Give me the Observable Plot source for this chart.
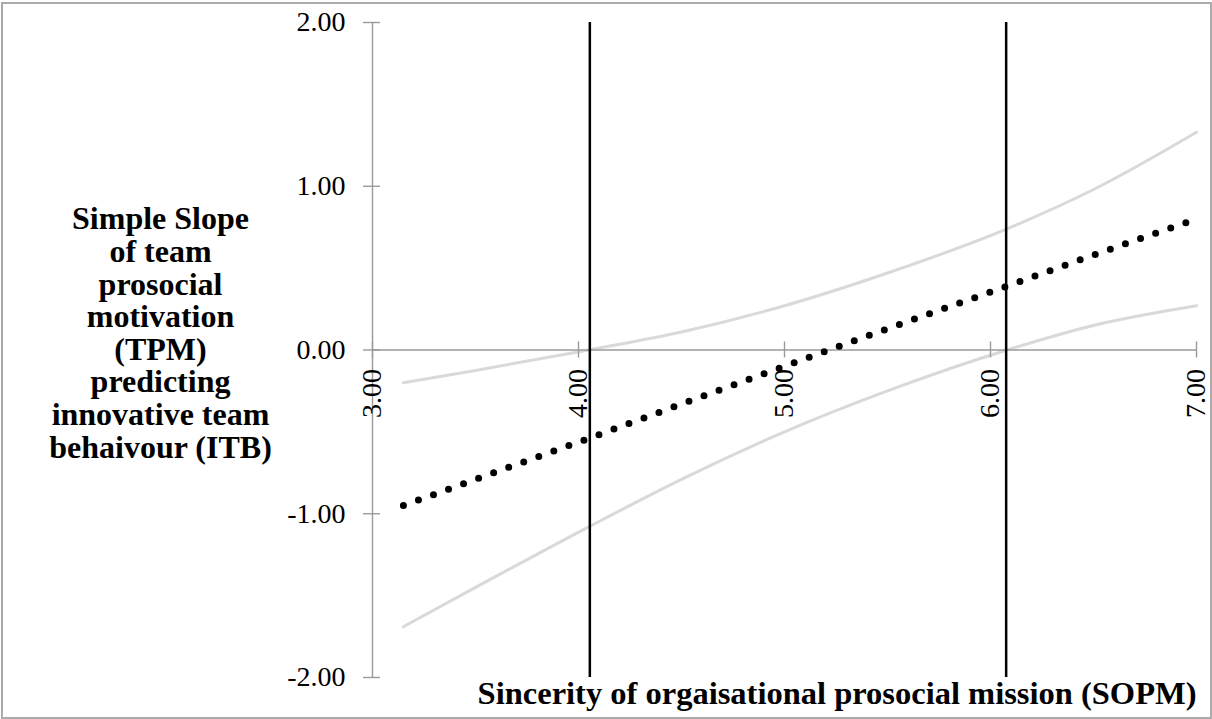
<!DOCTYPE html>
<html>
<head>
<meta charset="utf-8">
<script src="https://cdn.jsdelivr.net/npm/d3@7"></script>
<script src="https://cdn.jsdelivr.net/npm/@observablehq/plot@0.6"></script>
<style>
  html, body { margin: 0; padding: 0; background: #fff; }
  #wrap { position: relative; width: 1212px; height: 719px; overflow: hidden; }
  #border { position: absolute; left: 1px; top: 2px; width: 1207px; height: 713px; border: 2px solid #ababab; pointer-events: none; }
  svg { font-family: "Liberation Serif", "Times New Roman", serif; }
</style>
</head>
<body>
<div id="wrap"><div id="border"></div></div>
<script>
// ---- data ----
const sopm  = [3.15, 3.5, 4.05, 4.5, 5.0, 5.5, 6.08, 6.5, 7.0];
const slope = [-0.95, -0.79, -0.54, -0.33, -0.10, 0.13, 0.39, 0.58, 0.80];
const upper = [-0.20, -0.125, 0.00, 0.11, 0.27, 0.47, 0.74, 0.98, 1.33];
const lower = [-1.69, -1.45, -1.08, -0.79, -0.50, -0.25, 0.00, 0.15, 0.27];
const jnPoints = [4.055, 6.076];
const xTicks = [3, 4, 5, 6, 7];
const yTicks = [-2, -1, 0, 1, 2];
const xTickLabels = ["3.00", "4.00", "5.00", "6.00", "7.00"];
const yTickLabels = ["-2.00", "-1.00", "0.00", "1.00", "2.00"];
const yTitle = "Simple Slope\nof team\nprosocial\nmotivation\n(TPM)\npredicting\ninnovative team\nbehaivour (ITB)";
const xTitle = "Sincerity of orgaisational prosocial mission (SOPM)";

const rows = sopm.map((x, i) => ({x, est: slope[i], lo: lower[i], hi: upper[i]}));
const xt = xTicks.map((v, i) => ({v, label: xTickLabels[i]}));
const yt = yTicks.map((v, i) => ({v, label: yTickLabels[i]}));

const axisGray = "#9a9a9a";
const chart = Plot.plot({
  width: 1212,
  height: 719,
  marginLeft: 372,
  marginRight: 16,
  marginTop: 22,
  marginBottom: 42,
  x: {domain: [3, 7], axis: null},
  y: {domain: [-2, 2], axis: null},
  style: {fontFamily: "'Liberation Serif', 'Times New Roman', serif", background: "transparent", overflow: "visible"},
  marks: [
    // confidence bounds
    Plot.line(rows, {x: "x", y: "hi", stroke: "#d9d9d9", strokeWidth: 3, curve: "monotone-x"}),
    Plot.line(rows, {x: "x", y: "lo", stroke: "#d9d9d9", strokeWidth: 3, curve: "monotone-x"}),
    // axes lines
    Plot.ruleX([3], {y1: -2, y2: 2, stroke: axisGray, strokeWidth: 1.4}),
    Plot.ruleY([0], {x1: 3, x2: 7, stroke: axisGray, strokeWidth: 1.4}),
    // cross ticks
    Plot.ruleY(yt, {y: "v", x1: 3, x2: 3, insetLeft: -9, insetRight: -8, stroke: axisGray, strokeWidth: 1.4}),
    Plot.ruleX(xt, {x: "v", y1: 0, y2: 0, insetTop: -8, insetBottom: -8, stroke: axisGray, strokeWidth: 1.4}),
    // tick labels
    Plot.text(yt, {x: 3, y: "v", text: "label", textAnchor: "end", lineAnchor: "middle", dx: -27, fontSize: 28, fill: "#000"}),
    Plot.text(xt, {x: "v", y: 0, text: "label", rotate: -90, textAnchor: "end", lineAnchor: "middle", dy: 19, fontSize: 28, fill: "#000"}),
    // Johnson-Neyman region boundaries
    Plot.ruleX(jnPoints, {y1: -2, y2: 2, stroke: "#000", strokeWidth: 2.5}),
    // simple slope (dotted)
    Plot.line(rows, {x: "x", y: "est", stroke: "#000", strokeWidth: 7, strokeDasharray: "0,16", strokeLinecap: "round"}),
    // titles
    Plot.text([yTitle], {frameAnchor: "left", dx: -212, dy: -17, textAnchor: "middle", lineAnchor: "middle", lineHeight: 1.02, fontSize: 32, fontWeight: "bold", fill: "#000"}),
    Plot.text([xTitle], {frameAnchor: "bottom-right", textAnchor: "end", lineAnchor: "middle", dy: 16, fontSize: 32.5, fontWeight: "bold", fill: "#000"})
  ]
});
document.getElementById("wrap").prepend(chart);
</script>
</body>
</html>
